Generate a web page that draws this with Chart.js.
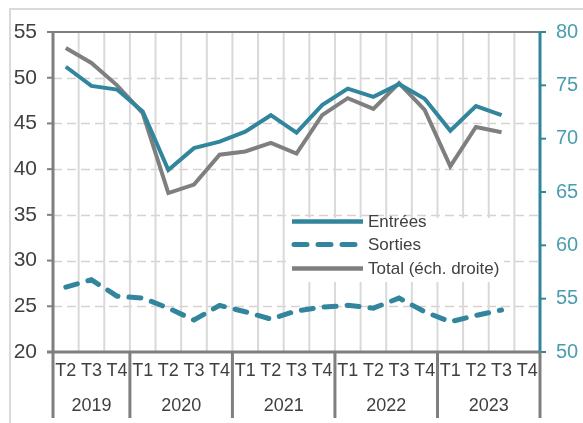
<!DOCTYPE html>
<html>
<head>
<meta charset="utf-8">
<script src="https://cdn.jsdelivr.net/npm/chart.js@4"></script>
<style>
  html, body { margin:0; padding:0; background:#fff; overflow:hidden; }
  #frame { position:absolute; left:9px; top:8px; width:700px; height:600px; border:2px solid #d9d9d9; z-index:0; }
  #c { position:absolute; left:0; top:0; z-index:1; }
</style>
</head>
<body>
<div id="frame"></div>
<canvas id="c" width="583" height="423"></canvas>
<script>
const quarters = ['T2','T3','T4','T1','T2','T3','T4','T1','T2','T3','T4','T1','T2','T3','T4','T1','T2','T3','T4'];
const years = ['2019','2020','2021','2022','2023'];
const yearSizes = [3,4,4,4,4];
const entrees = [51.2,49.1,48.7,46.3,39.9,42.3,43.0,44.1,45.9,44.0,47.0,48.8,47.9,49.3,47.7,44.2,46.9,45.9];
const sorties = [27.1,27.9,26.1,25.9,24.8,23.5,25.1,24.4,23.6,24.5,24.9,25.1,24.8,25.9,24.4,23.3,24.0,24.6];
const total   = [78.5,77.1,75.0,72.4,64.9,65.7,68.5,68.8,69.6,68.6,72.2,73.8,72.8,75.2,72.7,67.4,71.1,70.6];
const leftTicks = [20,25,30,35,40,45,50,55];
const rightTicks = [50,55,60,65,70,75,80];
const seriesNames = ['Entrées','Sorties','Total (éch. droite)'];

const TEAL = '#31859c';
const TEAL_LABEL = '#4a9db1';
const GRAY = '#7f7f7f';
const TEXT = '#404040';
const FONT = '"Liberation Sans", Arial, sans-serif';

const decor = {
  id: 'decor',
  beforeDatasetsDraw(chart) {
    const ctx = chart.ctx, ca = chart.chartArea;
    const xs = chart.scales.x, ys = chart.scales.y;
    ctx.save();
    ctx.strokeStyle = '#dccfcd';
    ctx.lineWidth = 1.6;
    ctx.setLineDash([9,5]);
    leftTicks.forEach(v => {
      if (v === leftTicks[0] || v === leftTicks[leftTicks.length-1]) return;
      const y = Math.round(ys.getPixelForValue(v)) + 0.5;
      ctx.beginPath(); ctx.moveTo(ca.left, y); ctx.lineTo(ca.right, y); ctx.stroke();
    });
    ctx.setLineDash([]);
    ctx.strokeStyle = '#d9d9d9';
    ctx.lineWidth = 2;
    for (let i = 1; i < quarters.length; i++) {
      const x = (xs.getPixelForValue(i-1) + xs.getPixelForValue(i)) / 2;
      ctx.beginPath(); ctx.moveTo(x, ca.top); ctx.lineTo(x, ca.bottom); ctx.stroke();
    }
    ctx.fillStyle = '#ffffff';
    ctx.fillRect(290, 218, 214, 64);
    ctx.restore();
  },
  afterDatasetsDraw(chart) {
    const ctx = chart.ctx, ca = chart.chartArea;
    const xs = chart.scales.x, ys = chart.scales.y, y1 = chart.scales.y1;
    ctx.save();
    ctx.strokeStyle = GRAY; ctx.lineWidth = 2;
    ctx.beginPath(); ctx.moveTo(ca.left, ca.top); ctx.lineTo(ca.right, ca.top); ctx.stroke();
    ctx.lineWidth = 3;
    ctx.beginPath(); ctx.moveTo(ca.left, ca.top); ctx.lineTo(ca.left, ca.bottom); ctx.stroke();
    ctx.lineWidth = 2;
    leftTicks.forEach(v => {
      const y = ys.getPixelForValue(v);
      ctx.beginPath(); ctx.moveTo(ca.left - 6, y); ctx.lineTo(ca.left, y); ctx.stroke();
    });
    ctx.strokeStyle = TEAL; ctx.lineWidth = 3;
    ctx.beginPath(); ctx.moveTo(ca.right, ca.top); ctx.lineTo(ca.right, ca.bottom); ctx.stroke();
    ctx.lineWidth = 2;
    rightTicks.forEach(v => {
      const y = y1.getPixelForValue(v);
      ctx.beginPath(); ctx.moveTo(ca.right, y); ctx.lineTo(ca.right + 6, y); ctx.stroke();
    });
    ctx.strokeStyle = GRAY; ctx.lineWidth = 3;
    ctx.beginPath(); ctx.moveTo(ca.left - 6, ca.bottom); ctx.lineTo(ca.right + 1, ca.bottom); ctx.stroke();
    const half = (xs.getPixelForValue(1) - xs.getPixelForValue(0)) / 2;
    let idx = 0;
    const seps = [ca.left];
    ctx.fillStyle = TEXT;
    ctx.font = '18px ' + FONT;
    ctx.textAlign = 'center'; ctx.textBaseline = 'middle';
    years.forEach((yr, k) => {
      const first = idx, last = idx + yearSizes[k] - 1;
      const cx = (xs.getPixelForValue(first) + xs.getPixelForValue(last)) / 2;
      ctx.fillText(yr, cx, ca.bottom + 54);
      seps.push(xs.getPixelForValue(last) + half);
      idx += yearSizes[k];
    });
    ctx.lineWidth = 3;
    seps.forEach(x => {
      ctx.beginPath(); ctx.moveTo(x, ca.bottom); ctx.lineTo(x, ca.bottom + 66); ctx.stroke();
    });
    const lx0 = 292, lx1 = 363, tx = 368;
    const rows = [221.5, 244.5, 268.5];
    const styles = [
      {c: TEAL, dash: [], w: 4.5},
      {c: TEAL, dash: [13, 11], w: 5},
      {c: GRAY, dash: [], w: 4.5}
    ];
    ctx.textAlign = 'left'; ctx.textBaseline = 'middle';
    ctx.font = '17px ' + FONT;
    rows.forEach((y, i) => {
      ctx.strokeStyle = styles[i].c;
      ctx.lineWidth = styles[i].w;
      ctx.lineCap = i === 1 ? 'round' : 'butt';
      ctx.setLineDash(styles[i].dash);
      ctx.beginPath(); ctx.moveTo(lx0 + (i === 1 ? 2 : 0), y); ctx.lineTo(lx1, y); ctx.stroke();
      ctx.setLineDash([]);
      ctx.fillStyle = TEXT;
      ctx.fillText(seriesNames[i], tx, y + 1);
    });
    ctx.restore();
  }
};

new Chart(document.getElementById('c'), {
  type: 'line',
  data: {
    labels: quarters,
    datasets: [
      { label: seriesNames[0], data: entrees, yAxisID: 'y', borderColor: TEAL, borderWidth: 4, pointRadius: 0, tension: 0, fill: false },
      { label: seriesNames[1], data: sorties, yAxisID: 'y', borderColor: TEAL, borderWidth: 5, borderDash: [12, 11], borderCapStyle: 'round', pointRadius: 0, tension: 0, fill: false },
      { label: seriesNames[2], data: total, yAxisID: 'y1', borderColor: GRAY, borderWidth: 4, pointRadius: 0, tension: 0, fill: false }
    ]
  },
  options: {
    responsive: false,
    animation: false,
    devicePixelRatio: 1,
    layout: { padding: { top: 32, left: 0, right: 0, bottom: 0 } },
    plugins: { legend: { display: false }, tooltip: { enabled: false } },
    scales: {
      x: {
        type: 'category', offset: true,
        grid: { display: false, drawTicks: false },
        border: { display: false },
        ticks: { autoSkip: false, maxRotation: 0, minRotation: 0, color: TEXT, font: { family: FONT, size: 18 }, padding: 8 },
        afterFit(s) { s.height = 71; }
      },
      y: {
        position: 'left', min: 20, max: 55,
        grid: { display: false, drawTicks: false },
        border: { display: false },
        ticks: { stepSize: 5, color: TEXT, font: { family: FONT, size: 21 }, padding: 16 },
        afterFit(s) { s.width = 53; }
      },
      y1: {
        position: 'right', min: 50, max: 80,
        grid: { display: false, drawTicks: false },
        border: { display: false },
        ticks: { stepSize: 5, color: TEAL_LABEL, font: { family: FONT, size: 20 }, padding: 16 },
        afterFit(s) { s.width = 43; }
      }
    }
  },
  plugins: [decor]
});
</script>
</body>
</html>
